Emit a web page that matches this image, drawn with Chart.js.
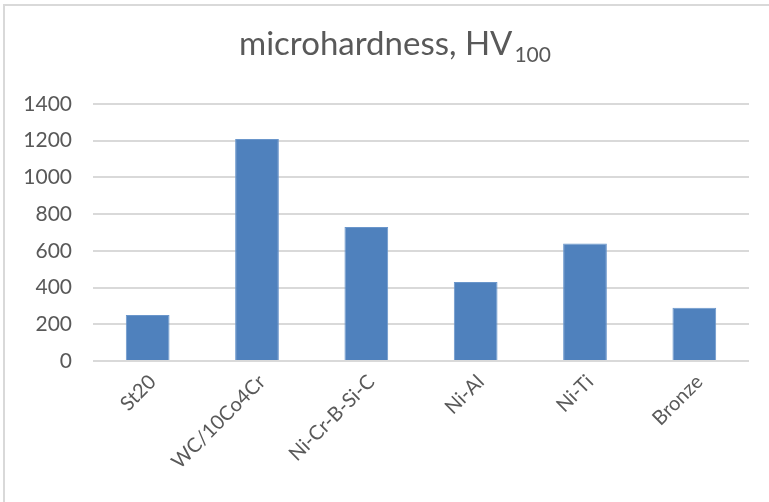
<!DOCTYPE html>
<html>
<head>
<meta charset="utf-8">
<script src="https://cdn.jsdelivr.net/npm/chart.js@4/dist/chart.umd.min.js"></script>
<style>
  html, body { margin: 0; padding: 0; background: #ffffff; }
  #wrap { width: 769px; height: 502px; position: relative; }
</style>
</head>
<body>
<div id="wrap"><canvas id="c" width="769" height="502"></canvas></div>
<script>
// Coatings and their microhardness (HV100)
const materials = ['St20', 'WC/10Co4Cr', 'Ni-Cr-B-Si-C', 'Ni-Al', 'Ni-Ti', 'Bronze'];
const hardness = [250, 1210, 730, 430, 640, 290];
const titleMain = 'microhardness, HV';
const titleSub = '100';

const textColor = '#595959';
const fontFamily = 'Lato, "Open Sans", sans-serif';

// Frame around the chart and title with subscript
const decorations = {
  id: 'decorations',
  beforeDraw(chart) {
    const ctx = chart.ctx;
    ctx.save();
    ctx.fillStyle = '#ffffff';
    ctx.fillRect(0, 0, chart.width, chart.height);
    ctx.strokeStyle = '#d9d9d9';
    ctx.lineWidth = 2;
    ctx.beginPath();
    ctx.moveTo(4, chart.height);
    ctx.lineTo(4, 5);
    ctx.lineTo(chart.width, 5);
    ctx.stroke();
    ctx.restore();
  },
  afterDraw(chart) {
    const ctx = chart.ctx;
    ctx.save();
    ctx.fillStyle = textColor;
    ctx.textBaseline = 'alphabetic';
    ctx.textAlign = 'left';
    const mainFont = '33px ' + fontFamily;
    const subFont = '21px ' + fontFamily;
    ctx.font = mainFont;
    const wMain = ctx.measureText(titleMain).width;
    ctx.font = subFont;
    const wSub = ctx.measureText(titleSub).width;
    const cx = 395;
    const baseY = 55;
    const x0 = cx - (wMain + 2 + wSub) / 2;
    ctx.font = mainFont;
    ctx.fillText(titleMain, x0, baseY);
    ctx.font = subFont;
    ctx.fillText(titleSub, x0 + wMain + 2, baseY + 7);
    ctx.restore();
  }
};

new Chart(document.getElementById('c'), {
  type: 'bar',
  data: {
    labels: materials,
    datasets: [{
      data: hardness,
      backgroundColor: '#4F81BD',
      borderColor: '#6A96CB',
      borderWidth: 1,
      categoryPercentage: 1,
      barPercentage: 0.4
    }]
  },
  options: {
    responsive: false,
    animation: false,
    devicePixelRatio: 1,
    layout: { padding: { left: 5, right: 20, top: 104, bottom: 0 } },
    plugins: {
      legend: { display: false },
      title: { display: false },
      tooltip: { enabled: false }
    },
    scales: {
      y: {
        min: 0,
        max: 1400,
        ticks: {
          stepSize: 200,
          color: textColor,
          font: { family: fontFamily, size: 21 },
          padding: 21,
          callback: (v) => String(v)
        },
        grid: { color: '#d9d9d9', lineWidth: 2, drawTicks: false },
        border: { display: false },
        afterFit(scale) { scale.width = 88; }
      },
      x: {
        ticks: {
          color: textColor,
          font: { family: fontFamily, size: 20 },
          minRotation: 45,
          maxRotation: 45,
          padding: 9,
          labelOffset: 5,
          autoSkip: false
        },
        grid: { display: false, drawTicks: false },
        border: { display: false },
        afterFit(scale) { scale.height = 141; }
      }
    }
  },
  plugins: [decorations]
});
</script>
</body>
</html>
